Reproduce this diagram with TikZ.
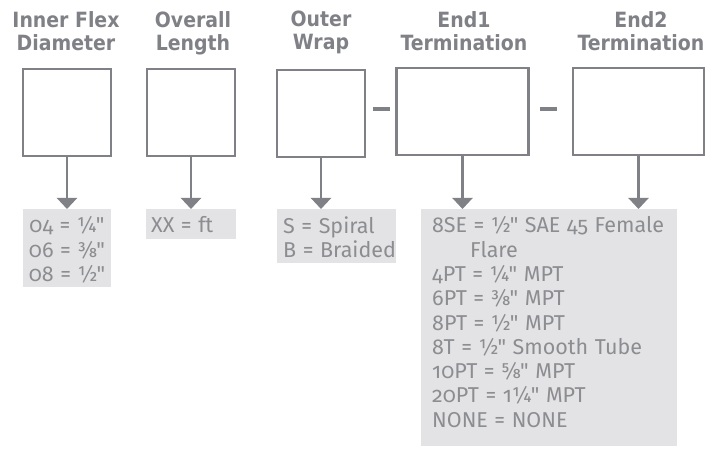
\documentclass[tikz,border=0pt]{standalone}
\usepackage{fontspec}
\setmainfont{Fira Sans}[Numbers=OldStyle, Ligatures=TeXOff, WordSpace=1.15]
\newfontfamily\hdrfont{DejaVu Sans Condensed Bold}
\usetikzlibrary{arrows.meta,calc}
\definecolor{lgray}{HTML}{808186}
\definecolor{tgray}{HTML}{8C8D91}
\definecolor{bgray}{HTML}{E3E3E5}
\begin{document}
\begin{tikzpicture}[x=1pt,y=1pt,
  hdr/.style={font=\hdrfont\fontsize{21}{23}\selectfont, text=lgray, align=center, inner sep=0pt, anchor=north},
  bx/.style={draw=lgray, line width=2.5pt, minimum height=87pt, inner sep=0pt},
  gbox/.style={fill=bgray, inner sep=0pt, anchor=north west},
  txt/.style={font=\fontsize{21.5}{24.3}\selectfont, text=tgray, inner sep=0pt},
  arr/.style={draw=lgray, line width=2.2pt, -{Triangle[width=20pt,length=11pt]}},
  dashbar/.style={fill=lgray, inner sep=0pt, minimum width=17pt, minimum height=4pt}
]
\useasboundingbox (0,0) rectangle (705,-457);
% headers
\node[hdr] (h1) at (66,-11) {Inner Flex\\Diameter};
\node[hdr] (h2) at (193,-11) {Overall\\Length};
\node[hdr] (h3) at (321,-11) {Outer\\Wrap};
\node[hdr] (h4) at (464,-11) {End1\\Termination};
\node[hdr] (h5) at (641,-11) {End2\\Termination};
% boxes
\node[bx, minimum width=88pt] (b1) at (67,-112.5) {};
\node[bx, minimum width=88pt] (b2) at (191,-112.5) {};
\node[bx, minimum width=88pt] (b3) at (321,-113.5) {};
\node[bx, minimum width=132pt] (b4) at (462.5,-111.5) {};
\node[bx, minimum width=131pt] (b5) at (638.5,-111.5) {};
% dashes
\node[dashbar] (d1) at (381.5,-109.5) {};
\node[dashbar] (d2) at (548.5,-109.5) {};
% gray boxes
\node[gbox, minimum width=88pt, minimum height=78pt] (g1) at (23,-209) {};
\node[gbox, minimum width=90pt, minimum height=30pt] (g2) at (146,-209) {};
\node[gbox, minimum width=119pt, minimum height=54pt] (g3) at (277,-209) {};
\node[gbox, minimum width=256pt, minimum height=237pt] (g4) at (421,-209) {};
% arrows
\draw[arr] (b1.south) -- (b1.south |- g1.north);
\draw[arr] (b2.south) -- (b2.south |- g2.north);
\draw[arr] (b3.south) -- (b3.south |- g3.north);
\draw[arr] (b4.south) -- (b4.south |- g4.north);
\draw[arr] (b5.south) -- (b5.south |- g4.north);
% texts
\node[txt, align=center, anchor=north] (t1) at (67,-216.5) {04 = ¼"\\06 = ⅜"\\08 = ½"};
\node[txt, align=left, anchor=north west] (t2) at (151,-216.5) {XX = ft};
\node[txt, align=left, anchor=north west] (t3) at (283,-216.5) {S = Spiral\\B = Braided};
\node[txt, align=left, anchor=north west] (t4) at (432,-216.5) {8SE = ½" SAE 45 Female\\\hspace*{38pt}Flare\\4PT = ¼" MPT\\6PT = ⅜" MPT\\8PT = ½" MPT\\8T = ½" Smooth Tube\\10PT = ⅝" MPT\\20PT = 1¼" MPT\\NONE = NONE};
\end{tikzpicture}
\end{document}
